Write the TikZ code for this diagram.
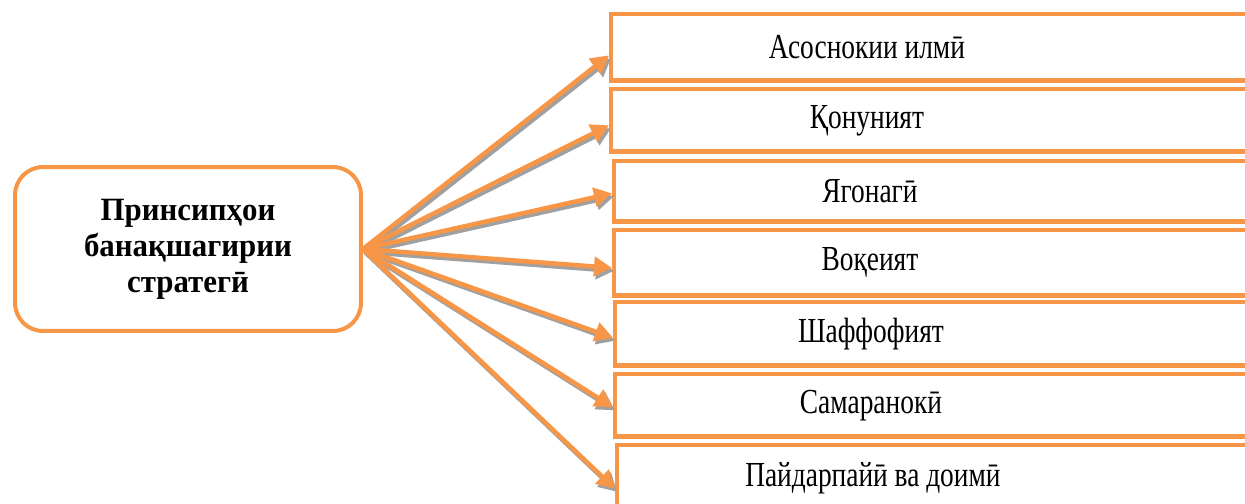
\documentclass[tikz,border=0pt]{standalone}
\usepackage{fontspec}
\setmainfont{Liberation Serif}
\newfontfamily\itemfont{Liberation Serif}[FakeStretch=0.78]
\newfontfamily\leftfont{Liberation Serif}[FakeStretch=0.95]
\usetikzlibrary{arrows.meta}
\definecolor{boxorange}{HTML}{F79646}
\definecolor{shadowgray}{HTML}{A0A0A0}
\tikzset{
  mainbox/.style={draw=boxorange, line width=0.08cm, rounded corners=0.56cm,
    minimum width=6.92cm, minimum height=3.28cm, align=center,
    font=\leftfont\bfseries\fontsize{18.5}{20.5}\selectfont},
  itembox/.style={anchor=north west},
  boxline/.style={draw=boxorange, line width=0.09cm},
  itemtext/.style={font=\itemfont\fontsize{20}{24}\selectfont},
  arrowline/.style={draw=boxorange, line width=0.09cm,
    -{Triangle[length=0.36cm,width=0.38cm]}},
  arrowshadow/.style={draw=shadowgray, line width=0.09cm,
    -{Triangle[length=0.36cm,width=0.38cm]}}
}
\begin{document}
\begin{tikzpicture}[x=0.02cm,y=-0.02cm]
  \useasboundingbox (0,0) rectangle (1245,504);
  \clip (0,0) rectangle (1245,504);
  % left box
  \node[mainbox] (lbox) at (188,249) {\raisebox{5pt}{\begin{tabular}{c}Принсипҳои\\банақшагирии\\стратегӣ\end{tabular}}};
  % right boxes, cut off by the right margin
  \foreach \i/\lft/\ytop/\ybot/\txt in {1/611/14/80/Асоснокии илмӣ,
      2/611/89/151/Қонуният,
      3/614/161/221/Ягонагӣ,
      4/614/230/295/Воқеият,
      5/615/302/365/Шаффофият,
      6/615/374/436/Самаранокӣ,
      7/617/445/510/Пайдарпайӣ ва доимӣ} {
    \node[itembox, minimum width={(1246-\lft)*0.02cm},
      minimum height={(\ybot-\ytop)*0.02cm}] (b\i) at (\lft,\ytop) {};
    \draw[boxline] (b\i.north east) -- (b\i.north west) -- (b\i.south west) -- (b\i.south east);
    \node[itemtext] (t\i) at ([xshift=5.12cm]b\i.west) {\txt};
  }
  % arrows with shadow
  \foreach \i/\dy in {1/8,2/5,3/2,4/5,5/4,6/2,7/11} {
    \draw[arrowshadow] ([shift={(2,3)}]lbox.east) -- ([shift={(0,3+\dy)}]b\i.west);
    \draw[arrowline] (lbox.east) -- ([shift={(-2,\dy)}]b\i.west);
  }
\end{tikzpicture}
\end{document}
